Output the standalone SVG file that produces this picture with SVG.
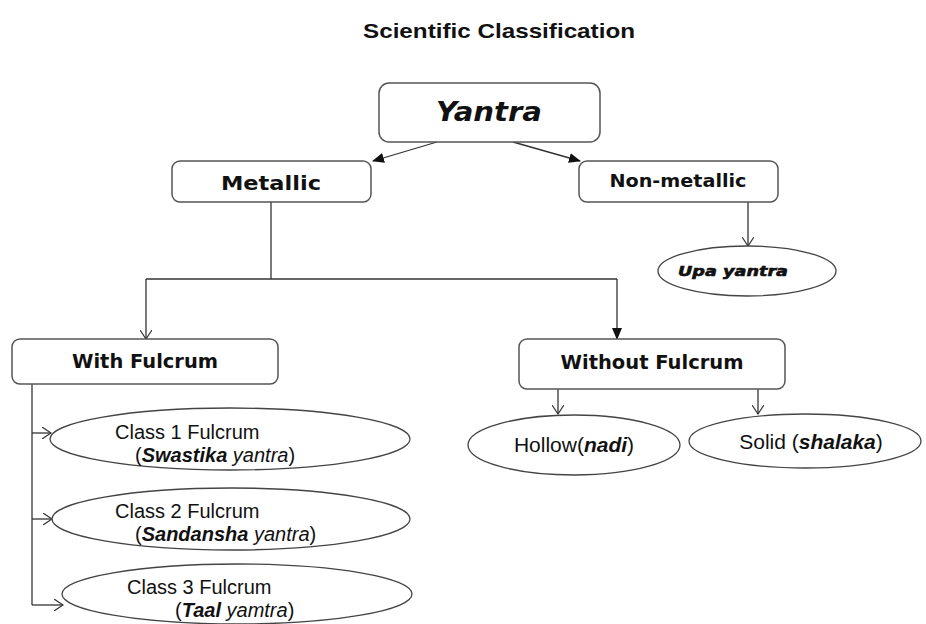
<svg xmlns="http://www.w3.org/2000/svg" width="926" height="624" viewBox="0 0 926 624">
<defs>
<marker id="open" viewBox="0 0 10 12" refX="9" refY="6" markerWidth="10" markerHeight="12" markerUnits="userSpaceOnUse" orient="auto">
<path d="M0,0 L9,6 L0,12" fill="none" stroke="#333" stroke-width="1.2"/>
</marker>
<marker id="solid" viewBox="0 0 12 10" refX="11" refY="5" markerWidth="12" markerHeight="10" markerUnits="userSpaceOnUse" orient="auto">
<path d="M0,0 L12,5 L0,10 Z" fill="#111"/>
</marker>
<style>
.box{fill:#fff;stroke:#555;stroke-width:1.5}
.ell{fill:#fff;stroke:#444;stroke-width:1.3}
.ln{fill:none;stroke:#333;stroke-width:1.3}
.hd{font-family:"DejaVu Sans",Verdana,sans-serif;font-weight:bold;fill:#111;text-anchor:middle}
.tx{font-family:"Liberation Sans",Arial,sans-serif;font-size:20px;fill:#111}
.tx.big{font-size:21px}
.bi{font-weight:bold;font-style:italic}
.it{font-style:italic}
</style>
</defs>
<rect width="926" height="624" fill="#fff"/>
<text x="499" y="38" font-family="Liberation Sans, Arial, sans-serif" font-weight="bold" font-size="21" text-anchor="middle" textLength="272" lengthAdjust="spacingAndGlyphs" fill="#111">Scientific Classification</text>

<g id="connectors">
<line class="ln" x1="437" y1="142" x2="373" y2="161" marker-end="url(#solid)"/>
<line class="ln" x1="513" y1="142" x2="580" y2="161" marker-end="url(#solid)"/>
<line class="ln" x1="748" y1="202" x2="748" y2="246" marker-end="url(#open)"/>
<polyline class="ln" points="271,202 271,279"/>
<polyline class="ln" points="146,279 617,279"/>
<line class="ln" x1="146" y1="279" x2="146" y2="339" marker-end="url(#open)"/>
<line class="ln" x1="617" y1="279" x2="617" y2="339" marker-end="url(#solid)"/>
<line class="ln" x1="558" y1="389" x2="558" y2="414" marker-end="url(#open)"/>
<line class="ln" x1="758" y1="389" x2="758" y2="414" marker-end="url(#open)"/>
<polyline class="ln" points="32,384 32,605"/>
<line class="ln" x1="32" y1="433" x2="51" y2="433" marker-end="url(#open)"/>
<line class="ln" x1="32" y1="519" x2="52" y2="519" marker-end="url(#open)"/>
<line class="ln" x1="32" y1="605" x2="63" y2="605" marker-end="url(#open)"/>
</g>

<g id="yantra">
<rect class="box" x="379" y="83" width="221" height="59" rx="10"/>
<text class="hd" x="489" y="121" font-size="27" font-style="italic" textLength="106" lengthAdjust="spacingAndGlyphs">Yantra</text>
</g>
<g id="metallic">
<rect class="box" x="172" y="161" width="199" height="41" rx="8"/>
<text class="hd" x="271" y="190" font-size="20" textLength="100" lengthAdjust="spacingAndGlyphs">Metallic</text>
</g>
<g id="nonmetallic">
<rect class="box" x="579" y="161" width="199" height="41" rx="8"/>
<text class="hd" x="678" y="187" font-size="18" textLength="137" lengthAdjust="spacingAndGlyphs">Non-metallic</text>
</g>
<g id="upa">
<ellipse class="ell" cx="747" cy="271" rx="89" ry="25"/>
<text class="hd" x="733" y="276" font-size="14" font-style="italic" stroke="#111" stroke-width="0.6" textLength="110" lengthAdjust="spacingAndGlyphs">Upa yantra</text>
</g>
<g id="withfulcrum">
<rect class="box" x="12" y="339" width="266" height="45" rx="8"/>
<text class="hd" x="145" y="368" font-size="19" textLength="146" lengthAdjust="spacingAndGlyphs">With Fulcrum</text>
</g>
<g id="withoutfulcrum">
<rect class="box" x="519" y="339" width="266" height="50" rx="8"/>
<text class="hd" x="652" y="369" font-size="19" textLength="183" lengthAdjust="spacingAndGlyphs">Without Fulcrum</text>
</g>
<g id="hollow">
<ellipse class="ell" cx="574" cy="445" rx="106" ry="30"/>
<text class="tx big" x="574" y="452" text-anchor="middle">Hollow(<tspan class="bi">nadi</tspan>)</text>
</g>
<g id="solid-node">
<ellipse class="ell" cx="805" cy="441" rx="116" ry="27"/>
<text class="tx big" x="811" y="449" text-anchor="middle">Solid (<tspan class="bi">shalaka</tspan>)</text>
</g>
<g id="class1">
<ellipse class="ell" cx="230" cy="439" rx="180" ry="31"/>
<text class="tx" x="115" y="439">Class 1 Fulcrum</text>
<text class="tx" x="135" y="462">(<tspan class="bi">Swastika</tspan><tspan class="it"> yantra</tspan>)</text>
</g>
<g id="class2">
<ellipse class="ell" cx="231" cy="519" rx="179" ry="31"/>
<text class="tx" x="115" y="518">Class 2 Fulcrum</text>
<text class="tx" x="135" y="541">(<tspan class="bi">Sandansha</tspan><tspan class="it"> yantra</tspan>)</text>
</g>
<g id="class3">
<ellipse class="ell" cx="237" cy="594" rx="175" ry="30"/>
<text class="tx" x="127" y="594">Class 3 Fulcrum</text>
<text class="tx" x="175" y="617">(<tspan class="bi">Taal</tspan><tspan class="it"> yamtra</tspan>)</text>
</g>
</svg>
